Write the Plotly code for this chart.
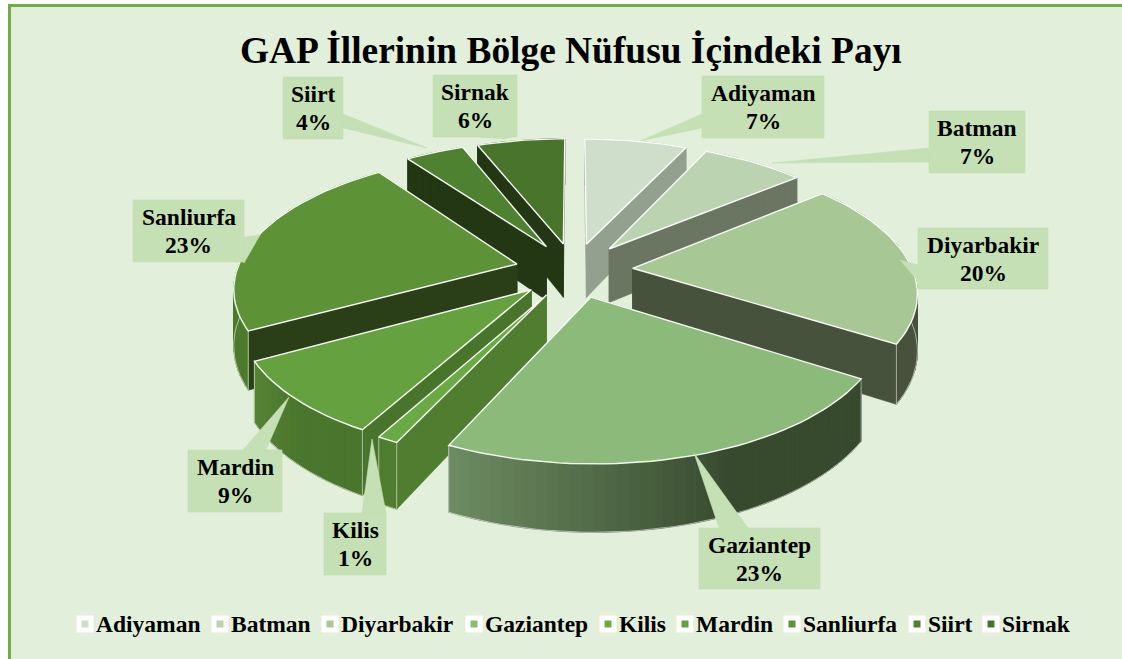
import math
import plotly.graph_objects as go

# ---- data ----
names = ["Adiyaman", "Batman", "Diyarbakir", "Gaziantep", "Kilis", "Mardin", "Sanliurfa", "Siirt", "Sirnak"]
shares = [7, 7, 20, 23, 1, 9, 23, 4, 6]
title_text = "GAP İllerinin Bölge Nüfusu İçindeki Payı"

# ---- styles ----
top_colors = ["#CFDECB", "#BBD3B1", "#A7C795", "#8CBA7A", "#6AAA45", "#65A13F", "#5E9237", "#4E8130", "#49742B"]
wall_colors = ["#94A08F", "#6A7562", "#47523C", "#3F5235", "#507D30", "#49742C", "#2A3F18", "#233714", "#233714"]
arc_from = ["#94A08F", "#6A7562", "#47523C", "#374A2E", "#507D30", "#4A752D", "#4E7A2E", "#233714", "#233714"]
arc_to = ["#94A08F", "#6A7562", "#47523C", "#6F8E64", "#507D30", "#578536", "#4E7A2E", "#233714", "#233714"]
LABEL_BG = "#C5E0B4"
PANEL = "#E2EFDA"
BORDER = "#70AD47"
FONT = "Liberation Serif"

# label boxes and leader wedges, in page pixels
boxes = [(702, 76, 824, 138), (929, 111, 1025, 173), (918, 228, 1048, 289), (699, 528, 820, 589),
         (324, 513, 386, 575), (188, 450, 282, 512), (133, 200, 244, 262), (283, 77, 343, 139), (433, 75, 517, 137)]
wedges = [[(640, 141), (702, 114), (702, 128)], [(772, 163), (929, 148), (929, 162)],
          [(900, 260), (918, 265), (918, 281)], [(694, 453), (719, 528), (748, 528)],
          [(372, 439), (362, 513), (386, 513)], [(289, 397), (243, 450), (266, 450)],
          [(260, 235), (244, 237), (244, 263)], [(427, 148), (343, 114), (343, 128)],
          [(505, 139), (480, 137), (512, 137)]]
legend_x = [85, 220, 330, 474, 608, 685, 792, 917, 991]
LEGEND_Y = 624

# projection of the exploded pie
CX, CY, A, B, PERSP, DEPTH, EXPLODE = 574, 270, 130, 280, 0.162, 55, 0.21


def proj(X, Y):
    s = 1 / (1 + PERSP * Y)
    return CX + B * X * s, CY - A * Y * s, DEPTH * s


def mix(c1, c2, t):
    a = [int(c1[i:i + 2], 16) for i in (1, 3, 5)]
    b = [int(c2[i:i + 2], 16) for i in (1, 3, 5)]
    return "rgb(%d,%d,%d)" % tuple(round(a[i] + (b[i] - a[i]) * t) for i in range(3))


fig = go.Figure()


def poly(pts, fill, line=None, width=0.6):
    xs = [p[0] for p in pts] + [pts[0][0]]
    ys = [p[1] for p in pts] + [pts[0][1]]
    fig.add_trace(go.Scatter(x=xs, y=ys, mode="lines", fill="toself", fillcolor=fill,
                             line=dict(color=line or fill, width=width),
                             hoverinfo="skip", showlegend=False))


total = sum(shares)
slices = []
acc = 0
for i, v in enumerate(shares):
    a0 = acc / total * 2 * math.pi
    acc += v
    a1 = acc / total * 2 * math.pi
    slices.append((i, a0, a1, (a0 + a1) / 2))

# painter's order: far slices first
for i, a0, a1, mid in sorted(slices, key=lambda s: -math.cos(s[3])):
    ox, oy = EXPLODE * math.sin(mid), EXPLODE * math.cos(mid)
    n = max(6, int((a1 - a0) * 30))
    rim = []
    for k in range(n + 1):
        t = a0 + (a1 - a0) * k / n
        rim.append(proj(ox + math.sin(t), oy + math.cos(t)))
    tip = proj(ox, oy)
    low = lambda p: (p[0], p[1] + p[2])
    # cut faces
    for end in (rim[0], rim[-1]):
        poly([tip[:2], end[:2], low(end), low(tip)], wall_colors[i])
    # outer face with its shading
    for k in range(n):
        shade = max(0, (k / n - 0.4) / 0.6)
        poly([rim[k][:2], rim[k + 1][:2], low(rim[k + 1]), low(rim[k])], mix(arc_from[i], arc_to[i], shade), width=1)
    if math.cos(mid) < 0.3:
        xs = [low(p)[0] for p in rim]
        ys = [low(p)[1] for p in rim]
        fig.add_trace(go.Scatter(x=[rim[0][0]] + xs + [rim[-1][0]], y=[rim[0][1]] + ys + [rim[-1][1]], mode="lines",
                                 line=dict(color="rgba(255,255,255,0.6)", width=0.9),
                                 hoverinfo="skip", showlegend=False))
    # top face
    poly([tip[:2]] + [p[:2] for p in rim], top_colors[i], line="rgba(255,255,255,0.95)", width=1.4)

# callouts
annotations = [dict(x=571, y=50, xref="x", yref="y", text="<b>%s</b>" % title_text, showarrow=False,
                    font=dict(family=FONT, size=37.4, color="#000000"))]
for i, (b, w) in enumerate(zip(boxes, wedges)):
    poly(w, LABEL_BG)
    poly([(b[0], b[1]), (b[2], b[1]), (b[2], b[3]), (b[0], b[3])], LABEL_BG)
    ym = (b[1] + b[3]) / 2
    for dy, txt in ((-14, names[i]), (14, "%d%%" % shares[i])):
        annotations.append(dict(x=(b[0] + b[2]) / 2, y=ym + dy, xref="x", yref="y", showarrow=False,
                                text="<b>%s</b>" % txt,
                                font=dict(family=FONT, size=23.5, color="#000000")))

# legend row
for i, lx in enumerate(legend_x):
    fig.add_trace(go.Scatter(x=[lx], y=[LEGEND_Y], mode="markers", hoverinfo="skip", showlegend=False,
                             marker=dict(symbol="square", size=12, color=top_colors[i],
                                         line=dict(color="#FFFFFF", width=5))))
    annotations.append(dict(x=lx + 8.5, y=LEGEND_Y, xref="x", yref="y", xanchor="left", showarrow=False,
                            text="<b>%s</b>" % names[i], font=dict(family=FONT, size=23.5, color="#000000")))

fig.update_layout(
    width=1122, height=659, margin=dict(l=0, r=0, t=0, b=0),
    paper_bgcolor="#FFFFFF", plot_bgcolor="#FFFFFF", showlegend=False,
    xaxis=dict(range=[0, 1122], visible=False, fixedrange=True),
    yaxis=dict(range=[659, 0], visible=False, fixedrange=True),
    annotations=annotations,
    shapes=[dict(type="rect", xref="x", yref="y", x0=9.5, y0=5.5, x1=1160, y1=700, layer="below",
                 fillcolor=PANEL, line=dict(color=BORDER, width=3))],
)
fig.write_html("out.html", config={"displayModeBar": False},
               post_script="document.body.style.margin='0';document.body.style.overflow='hidden';")
